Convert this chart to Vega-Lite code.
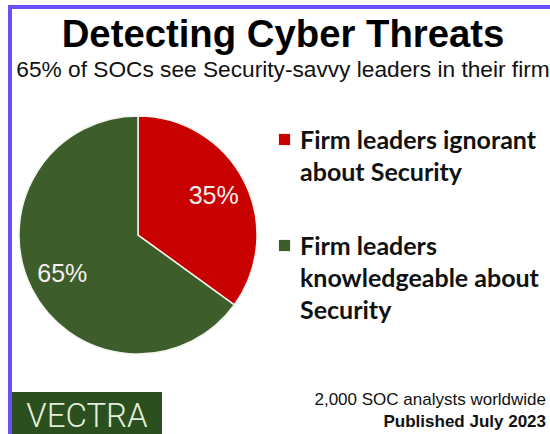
{
  "$schema": "https://vega.github.io/schema/vega-lite/v6.json",
  "background": "white",
  "padding": {"left": 8, "top": 5, "right": 0, "bottom": 0},
  "config": {
    "view": {"stroke": null},
    "style": {"guide-label": {"lineHeight": 32, "dy": -11}}
  },
  "spacing": 0,
  "resolve": {"scale": {"color": "independent"}, "legend": {"color": "independent"}},
  "vconcat": [
    {
      "width": 542,
      "height": 4,
      "view": {"fill": "#6b4ef6", "stroke": null},
      "data": {"values": []},
      "mark": "point",
      "encoding": {}
    },
    {
      "spacing": 0,
      "resolve": {"scale": {"color": "independent"}, "legend": {"color": "independent"}},
      "hconcat": [
        {
          "width": 4,
          "height": 425,
          "view": {"fill": "#6b4ef6", "stroke": null},
          "data": {"values": []},
          "mark": "point",
          "encoding": {}
        },
        {
          "spacing": 0,
          "resolve": {"scale": {"color": "independent"}, "legend": {"color": "independent"}},
          "vconcat": [
            {
              "width": 538,
              "height": 104,
              "data": {"values": []},
              "mark": "point",
              "encoding": {},
              "title": {
                "text": "Detecting Cyber Threats",
                "subtitle": "65% of SOCs see Security-savvy leaders in their firm",
                "orient": "top",
                "anchor": "middle",
                "frame": "group",
                "dx": 2,
                "offset": -73.5,
                "subtitlePadding": 4,
                "baseline": "top",
                "font": "Liberation Sans",
                "fontSize": 38.3,
                "fontWeight": "bold",
                "color": "#000000",
                "subtitleFont": "Liberation Sans",
                "subtitleFontSize": 22.7,
                "subtitleFontWeight": "normal",
                "subtitleColor": "#111111"
              }
            },
            {
              "width": 252,
              "height": 240,
              "data": {
                "values": [
                  {"group": "Firm leaders ignorant about Security", "share": 0.35},
                  {"group": "Firm leaders knowledgeable about Security", "share": 0.65}
                ]
              },
              "encoding": {
                "theta": {"field": "share", "type": "quantitative", "stack": true},
                "color": {
                  "field": "group",
                  "type": "nominal",
                  "scale": {
                    "domain": ["Firm leaders ignorant about Security", "Firm leaders knowledgeable about Security"],
                    "range": ["#c90000", "#3d5e2b"]
                  },
                  "legend": {
                    "orient": "none",
                    "legendX": 260,
                    "legendY": 12,
                    "title": null,
                    "padding": 0,
                    "symbolType": "square",
                    "symbolSize": 125,
                    "symbolStrokeWidth": 0,
                    "labelFont": "Lato",
                    "labelFontWeight": "bold",
                    "labelFontSize": 25,
                    "labelColor": "#111111",
                    "labelLimit": 400,
                    "labelOffset": 3,
                    "labelBaseline": "top",
                    "rowPadding": 47,
                    "labelExpr": "datum.label == 'Firm leaders ignorant about Security' ? ['Firm leaders ignorant', 'about Security'] : ['Firm leaders', 'knowledgeable about', 'Security']",
                    "encode": {"labels": {"lineHeight": {"value": 32}, "dy": {"value": -11}}}
                  }
                }
              },
              "layer": [
                {
                  "mark": {"type": "arc", "outerRadius": 119, "stroke": "#f4f4ee", "strokeWidth": 1.5}
                },
                {
                  "mark": {"type": "text", "radius": 85, "font": "Liberation Sans", "fontSize": 25},
                  "encoding": {
                    "text": {"field": "share", "type": "quantitative", "format": ".0%"},
                    "detail": {"field": "group", "type": "nominal"},
                    "color": {"value": "#f6eeee"}
                  }
                }
              ]
            },
            {
              "width": 1,
              "height": 34,
              "data": {"values": []},
              "mark": "point",
              "encoding": {}
            },
            {
              "bounds": "flush",
              "spacing": 0,
              "hconcat": [
                {
                  "width": 150,
                  "height": 43,
                  "view": {"fill": "#2b4f1e", "stroke": null},
                  "data": {"values": [{"brand": "VECTRA"}]},
                  "mark": {"type": "text", "font": "Roboto", "fontWeight": 300, "fontSize": 33, "color": "#e4eedb", "baseline": "middle", "align": "center", "dy": 3.5},
                  "encoding": {"text": {"field": "brand", "type": "nominal"}}
                },
                {
                  "width": 384,
                  "height": 43,
                  "data": {"values": []},
                  "mark": "point",
                  "encoding": {},
                  "title": {
                    "text": "2,000 SOC analysts worldwide",
                    "subtitle": "Published July 2023",
                    "orient": "top",
                    "anchor": "end",
                    "frame": "group",
                    "offset": -39,
                    "baseline": "top",
                    "font": "Liberation Sans",
                    "fontSize": 17,
                    "fontWeight": "normal",
                    "color": "#111111",
                    "subtitleFont": "Liberation Sans",
                    "subtitleFontSize": 17,
                    "subtitleFontWeight": "bold",
                    "subtitleColor": "#111111",
                    "subtitlePadding": 5
                  }
                }
              ]
            }
          ]
        }
      ]
    }
  ]
}
